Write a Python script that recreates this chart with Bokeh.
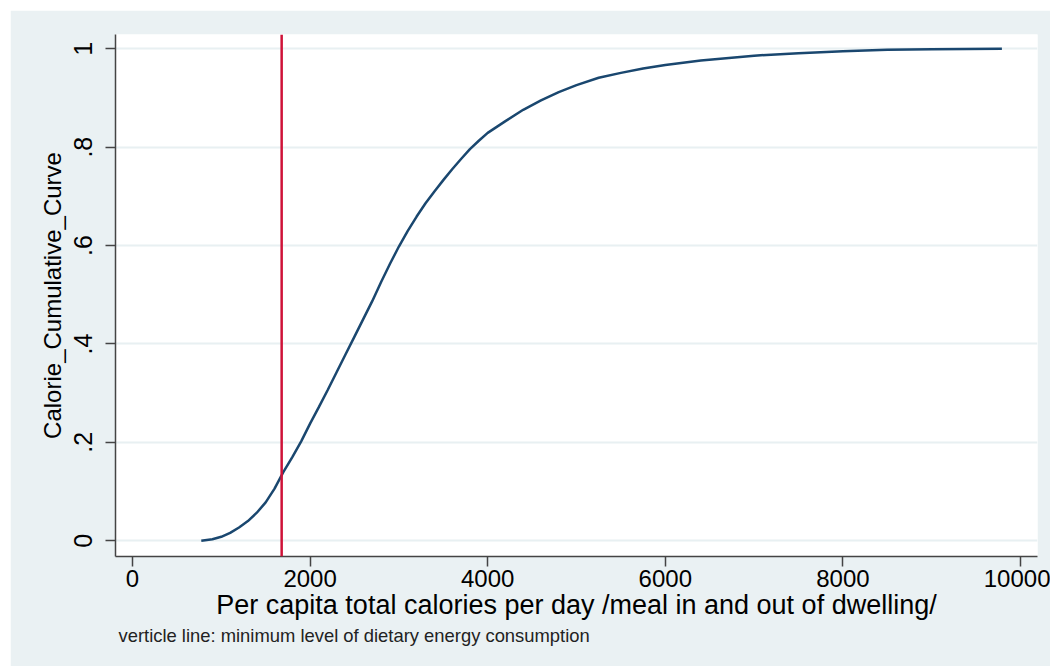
from bokeh.plotting import figure
from bokeh.models import Range1d, FixedTicker, Span, Title
from bokeh.embed import file_html
from bokeh.resources import INLINE

# Data
calories = [775, 900, 1000, 1100, 1200, 1300, 1400, 1500, 1600, 1700, 1800, 1900,
            2000, 2100, 2200, 2300, 2400, 2500, 2600, 2700, 2800, 2900, 3000, 3100,
            3200, 3300, 3400, 3500, 3600, 3700, 3800, 3900, 4000, 4200, 4400, 4600,
            4800, 5000, 5250, 5500, 5750, 6000, 6400, 7000, 7500, 8000, 8500, 9000, 9790]
cumulative = [0.0, 0.003, 0.008, 0.016, 0.027, 0.040, 0.057, 0.078, 0.106, 0.140, 0.170, 0.202,
              0.238, 0.272, 0.307, 0.343, 0.379, 0.415, 0.451, 0.487, 0.526, 0.563, 0.598, 0.630,
              0.659, 0.686, 0.710, 0.733, 0.755, 0.776, 0.796, 0.813, 0.829, 0.853, 0.876, 0.895,
              0.912, 0.926, 0.941, 0.951, 0.960, 0.967, 0.976, 0.986, 0.991, 0.995, 0.998, 0.999, 1.0]
min_energy = 1680

x_ticks = [0, 2000, 4000, 6000, 8000, 10000]
y_ticks = [0, 0.2, 0.4, 0.6, 0.8, 1.0]
y_tick_labels = ["0", ".2", ".4", ".6", ".8", "1"]

FONT = "Liberation Sans"
BG = "#eaf1f3"

p = figure(width=1040, height=656, output_backend="svg", toolbar_location=None,
           x_range=Range1d(-191, 10191), y_range=Range1d(-0.032, 1.029),
           min_border_left=105, min_border_right=13, min_border_top=24, min_border_bottom=110)
p.margin = (10, 0, 0, 10)
p.border_fill_color = BG
p.background_fill_color = "white"
p.outline_line_color = None

p.xgrid.grid_line_color = None
p.ygrid.grid_line_color = "#e8f0f2"
p.ygrid.grid_line_width = 2
p.ygrid.ticker = FixedTicker(ticks=y_ticks)

p.xaxis.ticker = FixedTicker(ticks=x_ticks)
p.yaxis.ticker = FixedTicker(ticks=y_ticks)
p.yaxis.major_label_overrides = {t: l for t, l in zip(y_ticks, y_tick_labels)}
p.yaxis.major_label_orientation = "vertical"

for ax in (p.xaxis, p.yaxis):
    ax.axis_line_color = "#444444"
    ax.axis_line_width = 1.5
    ax.major_tick_line_color = "#444444"
    ax.major_tick_line_width = 1.5
    ax.major_tick_in = 0
    ax.major_tick_out = 10
    ax.minor_tick_line_color = None
    ax.major_label_text_font = FONT
    ax.major_label_text_color = "black"
    ax.axis_label_text_font = FONT
    ax.axis_label_text_font_style = "normal"
    ax.axis_label_text_color = "black"

p.xaxis.major_label_text_font_size = "24px"
p.yaxis.major_label_text_font_size = "25px"
p.xaxis.axis_label = "Per capita total calories per day /meal in and out of dwelling/"
p.yaxis.axis_label = "Calorie_Cumulative_Curve"
p.xaxis.axis_label_text_font_size = "27px"
p.yaxis.axis_label_text_font_size = "24px"
p.xaxis.major_label_standoff = 3
p.xaxis.axis_label_standoff = 0
p.yaxis.major_label_standoff = 13
p.yaxis.axis_label_standoff = 6

p.line(calories, cumulative, line_color="#1a476f", line_width=2.5)
p.add_layout(Span(location=min_energy, dimension="height", line_color="#cf1238", line_width=2.5))

note = Title(text="verticle line: minimum level of dietary energy consumption",
             text_font=FONT, text_font_size="18.4px", text_font_style="normal",
             text_color="#222222", align="left", offset=3)
note.standoff = 0
p.add_layout(note, "below")

open("out.html", "w").write(file_html(p, INLINE))
